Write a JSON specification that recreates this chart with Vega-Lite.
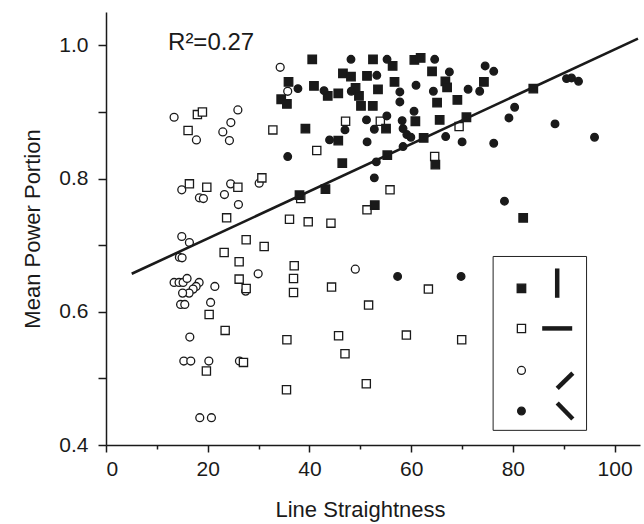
{
  "$schema": "https://vega.github.io/schema/vega-lite/v6.json",
  "width": 534,
  "height": 433,
  "autosize": {"type": "none"},
  "padding": {"left": 106, "top": 12, "right": 4, "bottom": 79},
  "background": "white",
  "config": {
    "view": {"stroke": null},
    "axis": {
      "grid": false,
      "domainColor": "#1a1a1a",
      "domainWidth": 1.5,
      "tickColor": "#1a1a1a",
      "tickWidth": 1.5,
      "labelFont": "Liberation Sans",
      "labelFontSize": 21,
      "labelColor": "#1a1a1a",
      "titleFont": "Liberation Sans",
      "titleFontSize": 22,
      "titleFontWeight": "normal",
      "titleColor": "#1a1a1a"
    }
  },
  "datasets": {
    "pts": [
      {"x": 13.39, "y": 0.892, "t": "oc"}, {"x": 25.93, "y": 0.903, "t": "oc"}, {"x": 24.55, "y": 0.884, "t": "oc"},
      {"x": 22.97, "y": 0.870, "t": "oc"}, {"x": 24.27, "y": 0.857, "t": "oc"}, {"x": 17.78, "y": 0.858, "t": "oc"},
      {"x": 34.25, "y": 0.967, "t": "oc"}, {"x": 35.73, "y": 0.931, "t": "oc"}, {"x": 14.90, "y": 0.783, "t": "oc"},
      {"x": 18.37, "y": 0.771, "t": "oc"}, {"x": 19.15, "y": 0.770, "t": "oc"}, {"x": 24.51, "y": 0.792, "t": "oc"},
      {"x": 23.29, "y": 0.776, "t": "oc"}, {"x": 26.04, "y": 0.761, "t": "oc"}, {"x": 30.12, "y": 0.793, "t": "oc"},
      {"x": 14.90, "y": 0.713, "t": "oc"}, {"x": 16.40, "y": 0.704, "t": "oc"}, {"x": 14.43, "y": 0.682, "t": "oc"},
      {"x": 14.96, "y": 0.681, "t": "oc"}, {"x": 29.92, "y": 0.657, "t": "oc"}, {"x": 27.46, "y": 0.631, "t": "oc"},
      {"x": 13.39, "y": 0.644, "t": "oc"}, {"x": 14.37, "y": 0.644, "t": "oc"}, {"x": 15.16, "y": 0.644, "t": "oc"},
      {"x": 15.94, "y": 0.650, "t": "oc"}, {"x": 18.31, "y": 0.644, "t": "oc"}, {"x": 17.72, "y": 0.638, "t": "oc"},
      {"x": 17.13, "y": 0.634, "t": "oc"}, {"x": 16.34, "y": 0.628, "t": "oc"}, {"x": 15.06, "y": 0.628, "t": "oc"},
      {"x": 21.40, "y": 0.638, "t": "oc"}, {"x": 20.57, "y": 0.614, "t": "oc"}, {"x": 14.67, "y": 0.611, "t": "oc"},
      {"x": 15.49, "y": 0.611, "t": "oc"}, {"x": 16.48, "y": 0.562, "t": "oc"}, {"x": 15.30, "y": 0.526, "t": "oc"},
      {"x": 16.67, "y": 0.526, "t": "oc"}, {"x": 20.22, "y": 0.526, "t": "oc"}, {"x": 26.24, "y": 0.526, "t": "oc"},
      {"x": 18.44, "y": 0.441, "t": "oc"}, {"x": 20.73, "y": 0.441, "t": "oc"}, {"x": 49.02, "y": 0.664, "t": "oc"},

      {"x": 17.97, "y": 0.896, "t": "os"}, {"x": 18.96, "y": 0.900, "t": "os"}, {"x": 16.14, "y": 0.872, "t": "os"},
      {"x": 32.81, "y": 0.873, "t": "os"}, {"x": 16.40, "y": 0.792, "t": "os"}, {"x": 19.82, "y": 0.787, "t": "os"},
      {"x": 25.93, "y": 0.787, "t": "os"}, {"x": 30.65, "y": 0.801, "t": "os"}, {"x": 23.72, "y": 0.741, "t": "os"},
      {"x": 27.56, "y": 0.708, "t": "os"}, {"x": 31.10, "y": 0.698, "t": "os"}, {"x": 23.23, "y": 0.689, "t": "os"},
      {"x": 26.18, "y": 0.675, "t": "os"}, {"x": 26.18, "y": 0.649, "t": "os"}, {"x": 27.56, "y": 0.635, "t": "os"},
      {"x": 20.28, "y": 0.596, "t": "os"}, {"x": 23.43, "y": 0.572, "t": "os"}, {"x": 19.74, "y": 0.511, "t": "os"},
      {"x": 27.03, "y": 0.524, "t": "os"}, {"x": 35.57, "y": 0.558, "t": "os"}, {"x": 35.49, "y": 0.483, "t": "os"},
      {"x": 36.08, "y": 0.739, "t": "os"}, {"x": 37.01, "y": 0.669, "t": "os"}, {"x": 36.87, "y": 0.650, "t": "os"},
      {"x": 36.87, "y": 0.629, "t": "os"}, {"x": 39.76, "y": 0.735, "t": "os"}, {"x": 44.23, "y": 0.733, "t": "os"},
      {"x": 51.32, "y": 0.753, "t": "os"}, {"x": 55.85, "y": 0.783, "t": "os"}, {"x": 41.44, "y": 0.842, "t": "os"},
      {"x": 47.11, "y": 0.886, "t": "os"}, {"x": 53.94, "y": 0.886, "t": "os"}, {"x": 38.29, "y": 0.770, "t": "os"},
      {"x": 64.63, "y": 0.833, "t": "os"}, {"x": 69.43, "y": 0.878, "t": "os"}, {"x": 44.35, "y": 0.637, "t": "os"},
      {"x": 63.39, "y": 0.634, "t": "os"}, {"x": 51.63, "y": 0.610, "t": "os"}, {"x": 45.73, "y": 0.564, "t": "os"},
      {"x": 59.06, "y": 0.565, "t": "os"}, {"x": 69.94, "y": 0.558, "t": "os"}, {"x": 46.99, "y": 0.537, "t": "os"},
      {"x": 51.18, "y": 0.492, "t": "os"},

      {"x": 34.45, "y": 0.919, "t": "fs"}, {"x": 35.57, "y": 0.912, "t": "fs"}, {"x": 35.89, "y": 0.945, "t": "fs"},
      {"x": 40.55, "y": 0.979, "t": "fs"}, {"x": 40.89, "y": 0.939, "t": "fs"}, {"x": 43.60, "y": 0.924, "t": "fs"},
      {"x": 45.67, "y": 0.928, "t": "fs"}, {"x": 46.59, "y": 0.958, "t": "fs"}, {"x": 48.17, "y": 0.953, "t": "fs"},
      {"x": 49.07, "y": 0.936, "t": "fs"}, {"x": 49.74, "y": 0.924, "t": "fs"}, {"x": 50.14, "y": 0.909, "t": "fs"},
      {"x": 52.46, "y": 0.909, "t": "fs"}, {"x": 51.32, "y": 0.954, "t": "fs"}, {"x": 52.50, "y": 0.979, "t": "fs"},
      {"x": 53.48, "y": 0.934, "t": "fs"}, {"x": 56.36, "y": 0.969, "t": "fs"}, {"x": 60.63, "y": 0.978, "t": "fs"},
      {"x": 61.87, "y": 0.981, "t": "fs"}, {"x": 56.73, "y": 0.945, "t": "fs"}, {"x": 64.11, "y": 0.961, "t": "fs"},
      {"x": 66.73, "y": 0.946, "t": "fs"}, {"x": 67.07, "y": 0.937, "t": "fs"}, {"x": 74.31, "y": 0.945, "t": "fs"},
      {"x": 65.10, "y": 0.914, "t": "fs"}, {"x": 69.09, "y": 0.918, "t": "fs"}, {"x": 60.83, "y": 0.886, "t": "fs"},
      {"x": 65.61, "y": 0.888, "t": "fs"}, {"x": 70.87, "y": 0.892, "t": "fs"}, {"x": 55.06, "y": 0.875, "t": "fs"},
      {"x": 39.21, "y": 0.875, "t": "fs"}, {"x": 45.67, "y": 0.857, "t": "fs"}, {"x": 46.46, "y": 0.823, "t": "fs"},
      {"x": 55.31, "y": 0.835, "t": "fs"}, {"x": 62.46, "y": 0.861, "t": "fs"}, {"x": 64.76, "y": 0.821, "t": "fs"},
      {"x": 43.15, "y": 0.784, "t": "fs"}, {"x": 38.05, "y": 0.775, "t": "fs"}, {"x": 52.85, "y": 0.760, "t": "fs"},
      {"x": 84.02, "y": 0.935, "t": "fs"}, {"x": 82.03, "y": 0.741, "t": "fs"},

      {"x": 37.74, "y": 0.935, "t": "fc"}, {"x": 35.73, "y": 0.833, "t": "fc"}, {"x": 48.17, "y": 0.979, "t": "fc"},
      {"x": 55.26, "y": 0.979, "t": "fc"}, {"x": 64.63, "y": 0.979, "t": "fc"}, {"x": 53.25, "y": 0.955, "t": "fc"},
      {"x": 42.87, "y": 0.932, "t": "fc"}, {"x": 48.23, "y": 0.931, "t": "fc"}, {"x": 60.96, "y": 0.940, "t": "fc"},
      {"x": 67.52, "y": 0.960, "t": "fc"}, {"x": 74.55, "y": 0.969, "t": "fc"}, {"x": 76.24, "y": 0.961, "t": "fc"},
      {"x": 71.20, "y": 0.934, "t": "fc"}, {"x": 73.48, "y": 0.931, "t": "fc"}, {"x": 64.37, "y": 0.931, "t": "fc"},
      {"x": 57.78, "y": 0.930, "t": "fc"}, {"x": 57.78, "y": 0.915, "t": "fc"}, {"x": 60.57, "y": 0.901, "t": "fc"},
      {"x": 55.22, "y": 0.894, "t": "fc"}, {"x": 51.22, "y": 0.888, "t": "fc"}, {"x": 58.23, "y": 0.887, "t": "fc"},
      {"x": 52.76, "y": 0.874, "t": "fc"}, {"x": 46.99, "y": 0.873, "t": "fc"}, {"x": 58.41, "y": 0.875, "t": "fc"},
      {"x": 59.15, "y": 0.866, "t": "fc"}, {"x": 59.94, "y": 0.862, "t": "fc"}, {"x": 43.96, "y": 0.858, "t": "fc"},
      {"x": 51.34, "y": 0.855, "t": "fc"}, {"x": 66.79, "y": 0.863, "t": "fc"}, {"x": 70.02, "y": 0.855, "t": "fc"},
      {"x": 76.24, "y": 0.853, "t": "fc"}, {"x": 58.41, "y": 0.848, "t": "fc"}, {"x": 53.15, "y": 0.825, "t": "fc"},
      {"x": 52.76, "y": 0.801, "t": "fc"}, {"x": 80.35, "y": 0.907, "t": "fc"}, {"x": 79.23, "y": 0.891, "t": "fc"},
      {"x": 90.55, "y": 0.950, "t": "fc"}, {"x": 91.54, "y": 0.951, "t": "fc"}, {"x": 92.91, "y": 0.946, "t": "fc"},
      {"x": 88.29, "y": 0.882, "t": "fc"}, {"x": 96.06, "y": 0.862, "t": "fc"}, {"x": 78.35, "y": 0.766, "t": "fc"},
      {"x": 57.34, "y": 0.653, "t": "fc"}, {"x": 69.82, "y": 0.653, "t": "fc"}
    ],
    "fit": [{"x": 5.06, "y": 0.657}, {"x": 104.6, "y": 1.010}],
    "box": [{"x": 76.12, "x2": 94.49, "y": 0.683, "y2": 0.422}],
    "legpts": [
      {"x": 81.69, "y": 0.635, "t": "fs"}, {"x": 81.69, "y": 0.575, "t": "os"},
      {"x": 81.69, "y": 0.512, "t": "oc"}, {"x": 81.69, "y": 0.451, "t": "fc"}
    ],
    "glyphs": [
      {"x": 88.72, "y": 0.665, "x2": 88.72, "y2": 0.621},
      {"x": 85.77, "y": 0.575, "x2": 91.67, "y2": 0.575},
      {"x": 88.72, "y": 0.485, "x2": 91.79, "y2": 0.508},
      {"x": 88.72, "y": 0.463, "x2": 91.79, "y2": 0.439}
    ],
    "label": [{"x": 12.2, "y": 1.004, "txt": "R²=0.27"}]
  },
  "encoding": {
    "x": {
      "field": "x", "type": "quantitative",
      "scale": {"domain": [0, 105], "nice": false, "zero": false},
      "axis": {
        "title": "Line Straightness",
        "titleX": 254,
        "values": [0, 10, 20, 30, 40, 50, 60, 70, 80, 90, 100],
        "labelExpr": "datum.value % 20 == 0 ? datum.value : ''",
        "tickSize": {"condition": {"test": "datum.value % 20 == 0", "value": 7}, "value": 4},
        "labelPadding": 6,
        "titlePadding": 20
      }
    },
    "y": {
      "field": "y", "type": "quantitative",
      "scale": {"domain": [0.4, 1.05], "nice": false, "zero": false},
      "axis": {
        "title": "Mean Power Portion",
        "values": [0.4, 0.5, 0.6, 0.7, 0.8, 0.9, 1.0],
        "labelExpr": "round(datum.value * 10) % 2 == 0 ? format(datum.value, '.1f') : ''",
        "tickSize": 8,
        "labelPadding": 10,
        "titlePadding": 14
      }
    }
  },
  "layer": [
    {
      "data": {"name": "box"},
      "mark": {"type": "rect", "fill": "white", "stroke": "#222", "strokeWidth": 1},
      "encoding": {"x2": {"field": "x2"}, "y2": {"field": "y2"}}
    },
    {
      "data": {"name": "pts"},
      "mark": {"type": "point", "filled": true, "stroke": "#1a1a1a", "strokeWidth": 1.3, "opacity": 1},
      "encoding": {
        "shape": {"field": "t", "type": "nominal", "scale": {"domain": ["fs", "os", "oc", "fc"], "range": ["square", "square", "circle", "circle"]}, "legend": null},
        "fill": {"field": "t", "type": "nominal", "scale": {"domain": ["fs", "os", "oc", "fc"], "range": ["#1a1a1a", "white", "white", "#1a1a1a"]}, "legend": null},
        "size": {"field": "t", "type": "nominal", "scale": {"domain": ["fs", "os", "oc", "fc"], "range": [72, 58, 72, 88]}, "legend": null}
      }
    },
    {
      "data": {"name": "fit"},
      "mark": {"type": "line", "color": "#1a1a1a", "strokeWidth": 2.6},
      "encoding": {}
    },
    {
      "data": {"name": "legpts"},
      "mark": {"type": "point", "filled": true, "stroke": "#1a1a1a", "strokeWidth": 1.3, "opacity": 1},
      "encoding": {
        "shape": {"field": "t", "type": "nominal", "scale": {"domain": ["fs", "os", "oc", "fc"], "range": ["square", "square", "circle", "circle"]}, "legend": null},
        "fill": {"field": "t", "type": "nominal", "scale": {"domain": ["fs", "os", "oc", "fc"], "range": ["#1a1a1a", "white", "white", "#1a1a1a"]}, "legend": null},
        "size": {"field": "t", "type": "nominal", "scale": {"domain": ["fs", "os", "oc", "fc"], "range": [72, 58, 72, 88]}, "legend": null}
      }
    },
    {
      "data": {"name": "glyphs"},
      "mark": {"type": "rule", "color": "#1a1a1a", "strokeWidth": 4.5, "strokeCap": "butt"},
      "encoding": {"x2": {"field": "x2"}, "y2": {"field": "y2"}}
    },
    {
      "data": {"name": "label"},
      "mark": {"type": "text", "align": "left", "baseline": "middle", "font": "Liberation Sans", "fontSize": 24, "color": "#1a1a1a"},
      "encoding": {"text": {"field": "txt"}}
    }
  ]
}
